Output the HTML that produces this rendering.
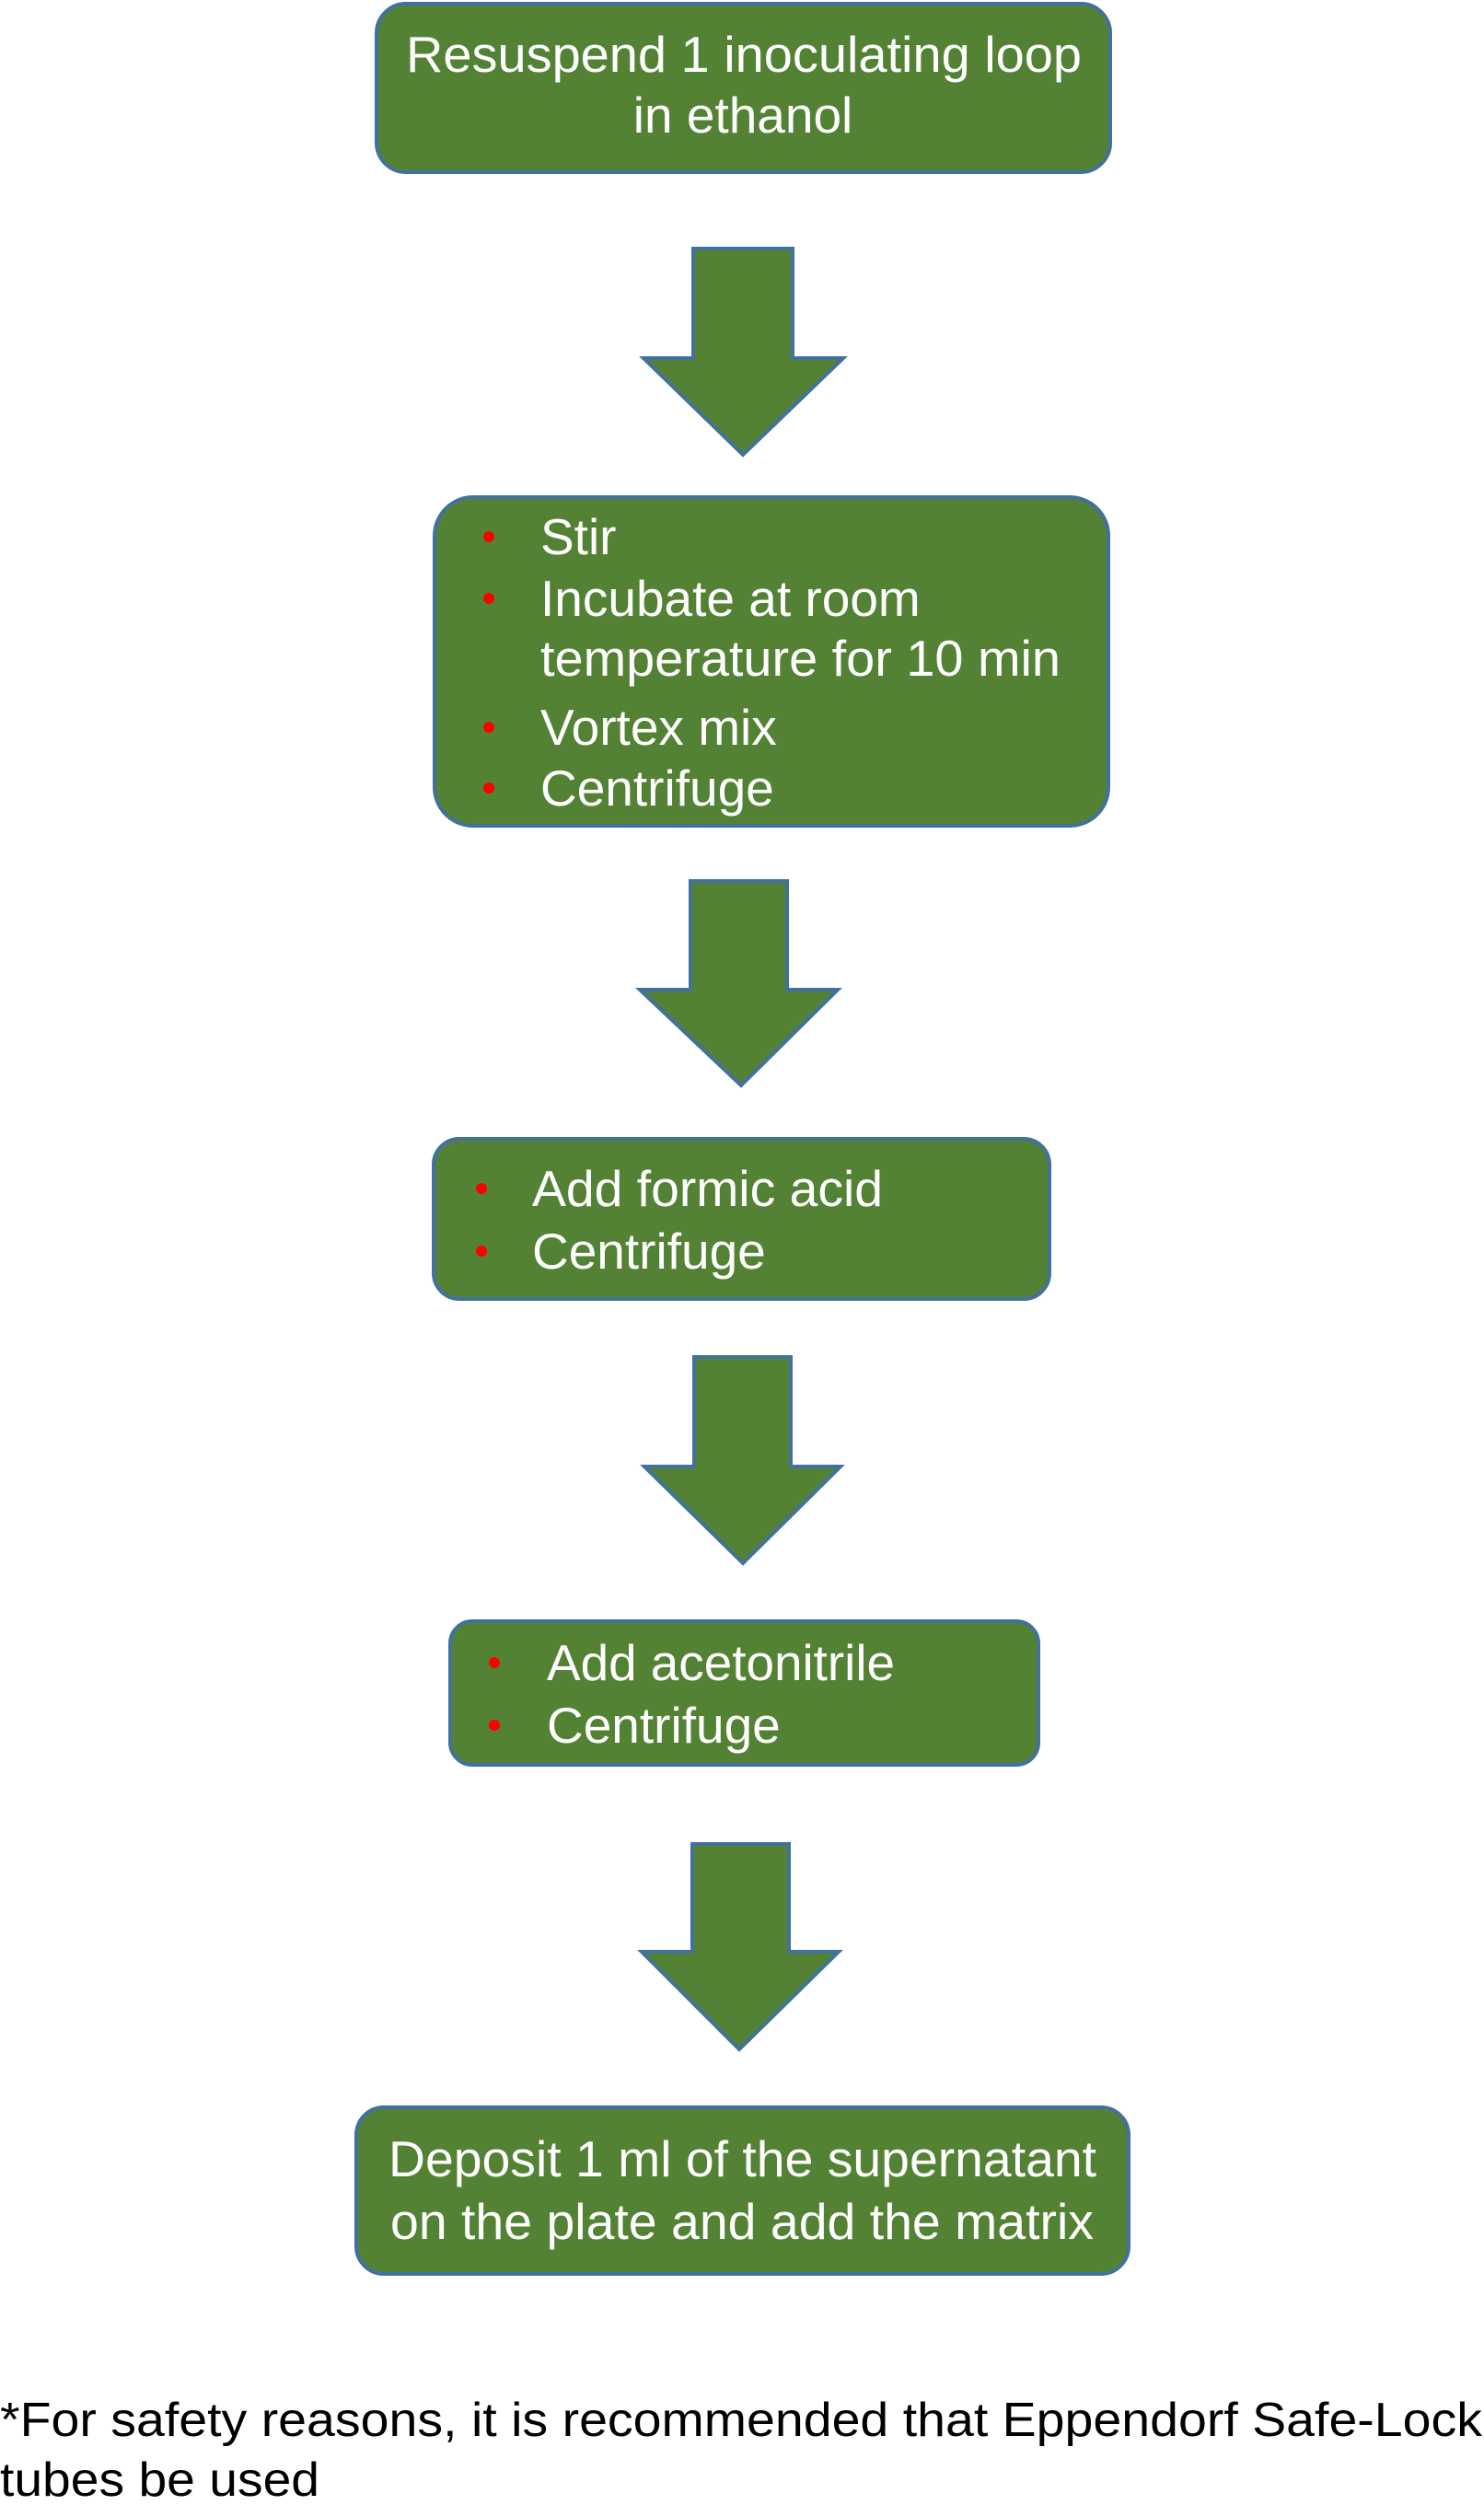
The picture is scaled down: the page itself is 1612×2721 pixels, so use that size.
<!DOCTYPE html>
<html><head><meta charset="utf-8"><style>
html,body{margin:0;padding:0;background:#fff;}
svg{display:block;}
text{font-family:"Liberation Sans",Arial,sans-serif;fill:#fff;}
.fn{fill:#000;}
</style></head><body>
<svg width="1612" height="2721" viewBox="0 0 1612 2721" xmlns="http://www.w3.org/2000/svg">
<g stroke="#41719C" stroke-width="4" fill="#548235">
<rect x="409" y="4" width="797" height="183" rx="32"/>
<rect x="472" y="540" width="732" height="357" rx="42"/>
<rect x="471" y="1237" width="669" height="174" rx="28"/>
<rect x="489" y="1761" width="639" height="156" rx="24"/>
<rect x="387" y="2289" width="839" height="181" rx="30"/>
<polygon points="753,270 861,270 861,389 916,389 807,494 699,389 753,389"/>
<polygon points="750,957 855,957 855,1075 910,1075 805,1179 695,1075 750,1075"/>
<polygon points="754,1474 859,1474 859,1593 913,1593 807,1698 700,1593 754,1593"/>
<polygon points="752,2003 857,2003 857,2120 911,2120 803,2226 697,2120 752,2120"/>
</g>
<g font-size="55">
<text x="441" y="78" textLength="734" lengthAdjust="spacingAndGlyphs">Resuspend 1 inoculating loop</text>
<text x="807" y="144" text-anchor="middle">in ethanol</text>
<text x="587" y="602">Stir</text>
<text x="587" y="669">Incubate at room</text>
<text x="587" y="734" textLength="565" lengthAdjust="spacingAndGlyphs">temperature for 10 min</text>
<text x="587" y="809">Vortex mix</text>
<text x="587" y="875">Centrifuge</text>
<text x="578" y="1310" textLength="381" lengthAdjust="spacingAndGlyphs">Add formic acid</text>
<text x="578" y="1378">Centrifuge</text>
<text x="594" y="1825" textLength="378" lengthAdjust="spacingAndGlyphs">Add acetonitrile</text>
<text x="594" y="1893">Centrifuge</text>
<text x="422" y="2364" textLength="769" lengthAdjust="spacingAndGlyphs">Deposit 1 ml of the supernatant</text>
<text x="424" y="2432" textLength="764" lengthAdjust="spacingAndGlyphs">on the plate and add the matrix</text>
</g>
<g fill="#FF0000">
<circle cx="531" cy="583" r="6"/>
<circle cx="531" cy="650" r="6"/>
<circle cx="531" cy="790" r="6"/>
<circle cx="531" cy="856" r="6"/>
<circle cx="523" cy="1291" r="6"/>
<circle cx="523" cy="1359" r="6"/>
<circle cx="537" cy="1806" r="6"/>
<circle cx="537" cy="1874" r="6"/>
</g>
<text class="fn" x="0" y="2646" font-size="52" textLength="1610" lengthAdjust="spacingAndGlyphs">*For safety reasons, it is recommended that Eppendorf Safe-Lock</text>
<text class="fn" x="0" y="2711" font-size="52" textLength="347" lengthAdjust="spacingAndGlyphs">tubes be used</text>
</svg>
</body></html>
